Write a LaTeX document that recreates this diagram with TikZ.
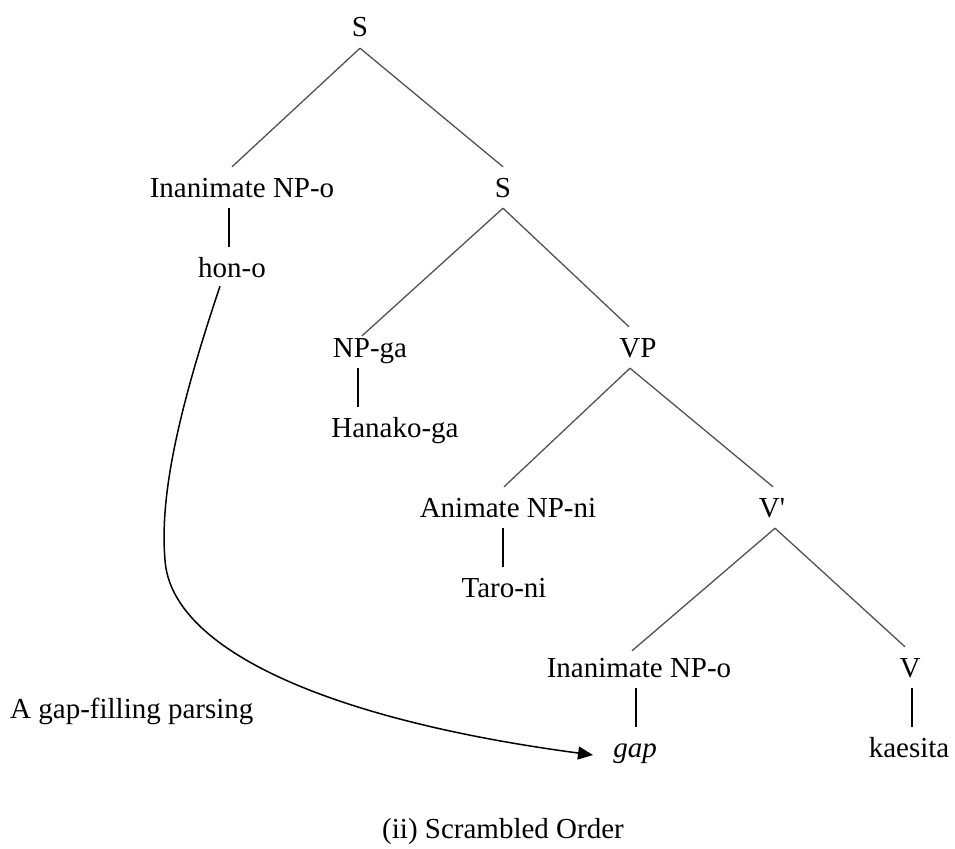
\documentclass[tikz,border=0pt]{standalone}
\usepackage{fontspec}
\setmainfont{Liberation Serif}
\newfontfamily\primefont{Liberation Serif}[Ligatures=TeXOff]
\usetikzlibrary{arrows.meta}
\tikzset{
  lbl/.style={font=\fontsize{29}{34}\selectfont, anchor=base, text height=19pt, text depth=0pt, inner xsep=0pt, inner ysep=11pt},
  plain/.style={font=\fontsize{29}{34}\selectfont, inner sep=0pt},
  branch/.style={draw=black!68, line width=1.3pt},
  stem/.style={draw=black, line width=1.3pt},
  movearrow/.style={draw=black, line width=1.5pt, -{Triangle[length=15pt,width=13pt]}}
}
\begin{document}
\begin{tikzpicture}[x=1pt,y=-1pt]
\useasboundingbox (0,0) rectangle (955,848);
% nodes (x = centre, y = baseline)
\node[lbl] (S1) at (360,37) {S};
\node[lbl] (InanL) at (242,197) {Inanimate NP-o};
\node[lbl] (S2) at (503,197) {S};
\node[lbl] (hon) at (232,277) {hon-o};
\node[lbl] (NPga) at (370,357) {NP-ga};
\node[lbl] (VP) at (638,357) {VP};
\node[lbl] (Hanako) at (395,437) {Hanako-ga};
\node[lbl] (Anim) at (508,517) {Animate NP-ni};
\node[lbl] (Vbar) at (772,517) {V{\primefont'}};
\node[lbl] (Taro) at (504,597) {Taro-ni};
\node[lbl] (InanB) at (639,677) {Inanimate NP-o};
\node[lbl] (V) at (910,677) {V};
\node[lbl] (gap) at (635,757) {\itshape gap};
\node[lbl] (kaes) at (909,757) {kaesita};
\node[plain, anchor=base west] (gfp) at (10,718) {A gap-filling parsing};
\node[plain, anchor=base] (cap) at (503,838) {(ii) Scrambled Order};
% branches
\draw[branch] (S1.south) -- ([xshift=-10pt]InanL.north);
\draw[branch] (S1.south) -- (S2.north);
\draw[stem] ([xshift=-13pt]InanL.south) -- ([xshift=-3pt]hon.north);
\draw[branch] (S2.south) -- ([xshift=-8pt,yshift=-9pt]NPga.north);
\draw[branch] (S2.south) -- ([xshift=-9pt]VP.north);
\draw[stem] ([xshift=-12pt]NPga.south) -- ([xshift=-37pt]Hanako.north);
\draw[branch] ([xshift=-8pt]VP.south) -- ([xshift=-4pt]Anim.north);
\draw[branch] ([xshift=-8pt]VP.south) -- ([xshift=1pt]Vbar.north);
\draw[stem] ([xshift=-5pt]Anim.south) -- ([xshift=-1pt]Taro.north);
\draw[branch] ([xshift=3pt]Vbar.south) -- ([xshift=-7pt,yshift=-4pt]InanB.north);
\draw[branch] ([xshift=3pt]Vbar.south) -- ([xshift=-5pt]V.north);
\draw[stem] ([xshift=-3pt]InanB.south) -- ([xshift=1pt]gap.north);
\draw[stem] ([xshift=2pt]V.south) -- ([xshift=3pt]kaes.north);
% movement arrow
\coordinate (mid) at (165,560);
\coordinate (gaptip) at (593,755);
\draw[movearrow] ([xshift=-12pt,yshift=2pt]hon.south) .. controls (175,420) and (160,500) .. (mid)
  .. controls (171,650) and (330,720) .. (gaptip);
\end{tikzpicture}
\end{document}
